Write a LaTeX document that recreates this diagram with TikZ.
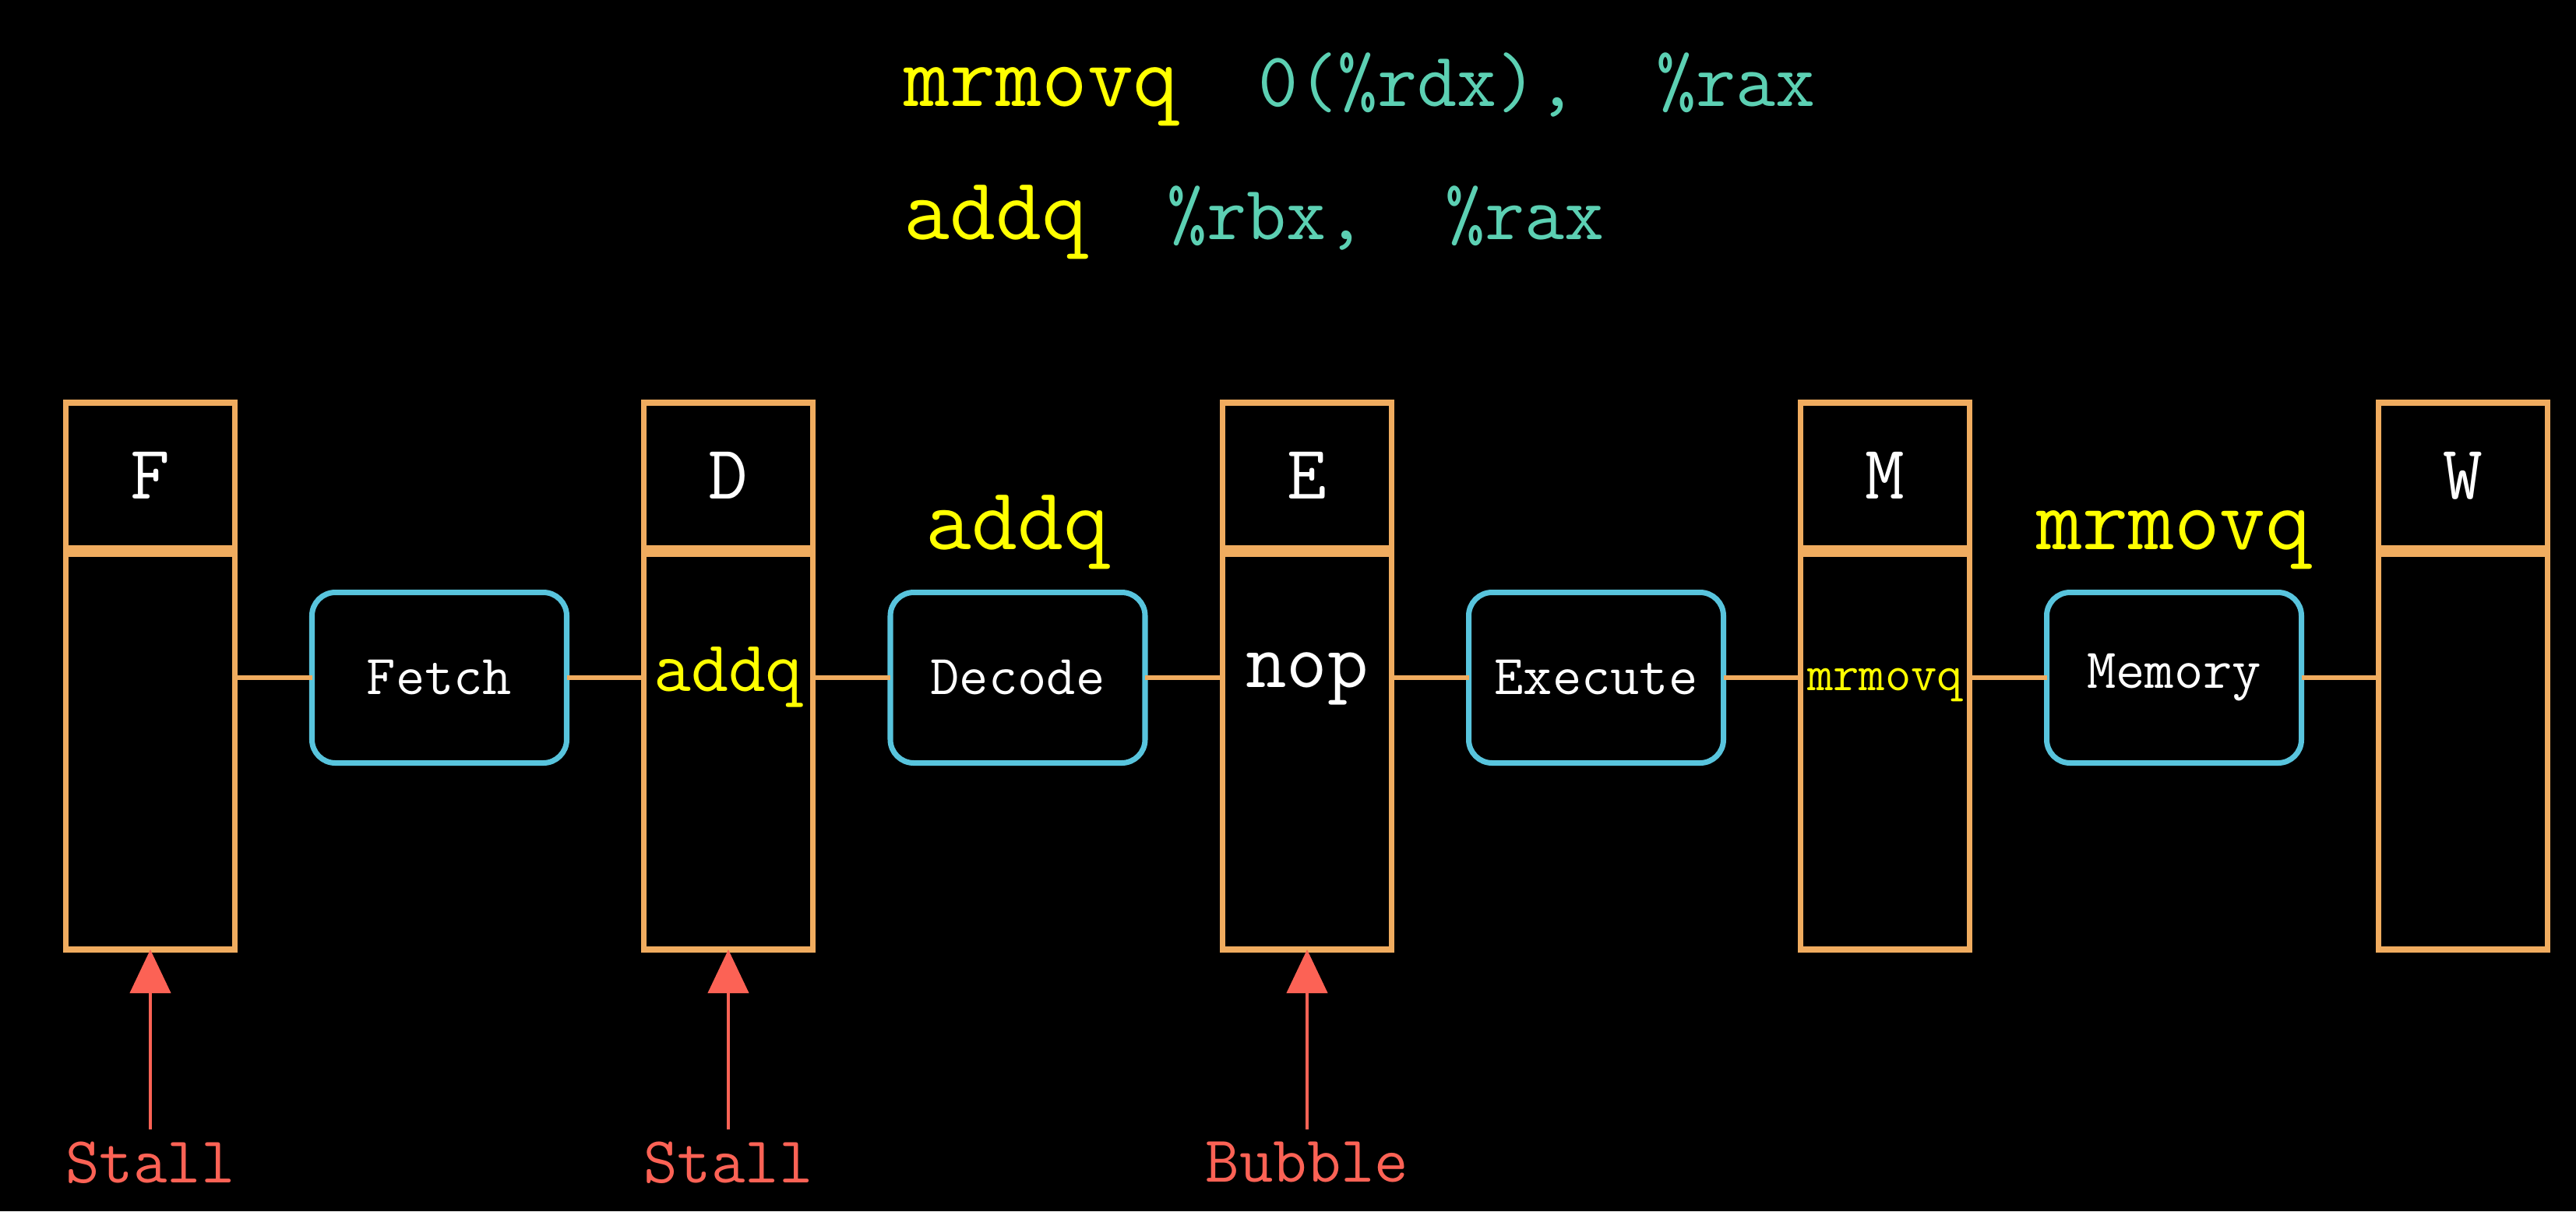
\documentclass[tikz,border=0pt]{standalone}
\usepackage{tikz}
\usepackage{fontspec}
\usetikzlibrary{positioning}
\usetikzlibrary{arrows.meta}
\definecolor{reggold}{HTML}{F0AC5F}
\definecolor{stageblue}{HTML}{58C4DD}
\definecolor{signalred}{HTML}{FC6255}
\definecolor{codeteal}{HTML}{5CD0B3}
\definecolor{codeyellow}{HTML}{FFFF00}
\newcommand{\mnemonic}[1]{{\color{codeyellow}\fontsize{32.5}{36}\selectfont #1}}
\tikzset{
        % Instruction lines at the top
        code_line/.style={anchor=base west, inner sep=0pt, text=codeteal, font=\ttfamily\fontsize{28.2}{32}\selectfont},
        % Pipeline registers
        reg_head/.style={rectangle, draw=reggold, line width=2.1pt, outer sep=0pt, text=white, minimum width=2.17cm, minimum height=1.87cm, font=\ttfamily\fontsize{28}{30}\selectfont},
        reg_body/.style={rectangle, draw=reggold, line width=2.1pt, outer sep=0pt, minimum width=2.17cm, minimum height=5.08cm},
        % Stage logic
        stage_box/.style={rectangle, rounded corners=0.3cm, draw=stageblue, line width=2pt, outer sep=0pt, text=white, minimum width=3.27cm, minimum height=2.19cm, font=\ttfamily\fontsize{20.6}{24}\selectfont},
        wire/.style={draw=reggold, line width=1.6pt},
        % Instruction held in a register
        reg_instr/.style={anchor=base, inner sep=0pt},
        % Instruction entering a stage
        stage_instr/.style={anchor=base, inner sep=0pt, text=codeyellow, font=\ttfamily\fontsize{32.5}{36}\selectfont},
        % Control signals
        signal_lbl/.style={inner sep=0.15cm, text=signalred, font=\ttfamily\fontsize{24}{28}\selectfont},
        signal_arrow/.style={draw=signalred, line width=1.3pt, -{Triangle[width=0.52cm, length=0.56cm]}}
}
\begin{document}
\begin{tikzpicture}
    \fill[black] (0,0) rectangle (33.07,-15.55);
    \useasboundingbox (0,0) rectangle (33.07,-15.55);

    % code
    \node[code_line] (line1) at (11.60,-1.36) {\mnemonic{mrmovq}~~0(\%rdx),~~\%rax};
    \node[code_line] (line2) at (11.60,-3.07) {\mnemonic{addq}~~\%rbx,~~\%rax};

    % registers
    \node[reg_head] (headF) at (1.93,-6.105) {F};
    \node[reg_body, below=0.07cm of headF] (bodyF) {};
    \node[reg_head] (headD) at (9.35,-6.105) {D};
    \node[reg_body, below=0.07cm of headD] (bodyD) {};
    \node[reg_head] (headE) at (16.78,-6.105) {E};
    \node[reg_body, below=0.07cm of headE] (bodyE) {};
    \node[reg_head] (headM) at (24.20,-6.105) {M};
    \node[reg_body, below=0.07cm of headM] (bodyM) {};
    \node[reg_head] (headW) at (31.62,-6.105) {W};
    \node[reg_body, below=0.07cm of headW] (bodyW) {};

    % stages
    \node[stage_box] (fetch) at (5.64,-8.70) {Fetch};
    \node[stage_box] (decode) at (13.065,-8.70) {Decode};
    \node[stage_box] (execute) at (20.49,-8.70) {Execute};
    \node[stage_box] (memory) at (27.91,-8.70) {Memory};

    % wires
    \draw[wire] (bodyF.east |- fetch.west) -- (fetch.west);
    \draw[wire] (fetch.east) -- (fetch.east -| bodyD.west);
    \draw[wire] (bodyD.east |- decode.west) -- (decode.west);
    \draw[wire] (decode.east) -- (decode.east -| bodyE.west);
    \draw[wire] (bodyE.east |- execute.west) -- (execute.west);
    \draw[wire] (execute.east) -- (execute.east -| bodyM.west);
    \draw[wire] (bodyM.east |- memory.west) -- (memory.west);
    \draw[wire] (memory.east) -- (memory.east -| bodyW.west);

    % register contents
    \node[reg_instr, text=codeyellow, font=\ttfamily\fontsize{26.5}{30}\selectfont] (instrD) at ([yshift=-0.17cm]bodyD.center |- decode.west) {addq};
    \node[reg_instr, text=white, font=\ttfamily\fontsize{29}{32}\selectfont] (instrE) at ([yshift=-0.12cm]bodyE.center |- execute.west) {nop};
    \node[reg_instr, text=codeyellow, font=\ttfamily\fontsize{18.4}{22}\selectfont] (instrM) at ([yshift=-0.16cm]bodyM.center |- memory.west) {mrmovq};

    % instructions in flight
    \node[stage_instr] (nextD) at ([yshift=0.55cm]decode.north) {addq};
    \node[stage_instr] (nextM) at ([yshift=0.55cm]memory.north) {mrmovq};

    % control
    \node[signal_lbl, below=2.31cm of bodyF] (stallF) {Stall};
    \node[signal_lbl, below=2.31cm of bodyD] (stallD) {Stall};
    \node[signal_lbl, below=2.31cm of bodyE] (bubbleE) {Bubble};
    \draw[signal_arrow] (stallF) -- (bodyF);
    \draw[signal_arrow] (stallD) -- (bodyD);
    \draw[signal_arrow] (bubbleE) -- (bodyE);
\end{tikzpicture}
\end{document}
